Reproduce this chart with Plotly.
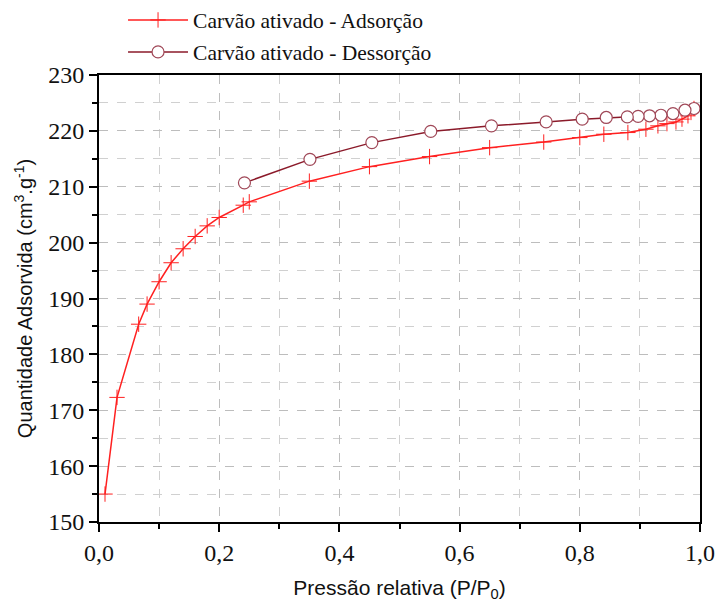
import plotly.graph_objects as go

ads_x = [0.01, 0.03, 0.066, 0.08, 0.10, 0.12, 0.14, 0.16, 0.18, 0.20, 0.24, 0.25,
         0.35, 0.45, 0.55, 0.65, 0.74, 0.80, 0.84, 0.88, 0.91, 0.93, 0.945, 0.96,
         0.97, 0.98, 0.985, 0.99]
ads_y = [155.0, 172.3, 185.4, 189.0, 193.0, 196.4, 198.9, 201.1, 203.0, 204.5, 206.7, 207.3,
         211.0, 213.6, 215.4, 217.0, 218.0, 218.8, 219.4, 219.7, 220.3, 220.9, 221.3, 221.6,
         222.1, 222.7, 223.3, 224.0]

des_x = [0.99, 0.975, 0.955, 0.935, 0.916, 0.897, 0.879, 0.844, 0.804, 0.744, 0.653,
         0.552, 0.454, 0.351, 0.242]
des_y = [224.0, 223.7, 223.1, 222.8, 222.7, 222.6, 222.5, 222.4, 222.1, 221.6, 220.9,
         219.9, 217.9, 214.9, 210.7]

x_ticks = [0.0, 0.2, 0.4, 0.6, 0.8, 1.0]
y_ticks = [150, 160, 170, 180, 190, 200, 210, 220, 230]

SERIF = "Liberation Serif, Times New Roman, Times, serif"
SANS = "Liberation Sans, Arial, Helvetica, sans-serif"

fig = go.Figure()
fig.add_trace(go.Scatter(
    x=ads_x, y=ads_y, mode="lines+markers", name="Carvão ativado - Adsorção",
    legendgroup="a",
    line=dict(color="#ff2020", width=1.5),
    marker=dict(symbol="cross-thin-open", size=11, line=dict(color="#ff3366", width=1)),
))
fig.add_trace(go.Scatter(
    x=des_x, y=des_y, mode="lines+markers", name="Carvão ativado - Dessorção",
    legendgroup="b",
    line=dict(color="#8b1a2a", width=1.5),
    marker=dict(symbol="circle", size=12, color="white", line=dict(color="#a04858", width=1.2)),
))

axis_common = dict(
    showline=True, linecolor="black", linewidth=2, mirror=True,
    ticks="outside", ticklen=8, tickwidth=2, tickcolor="black",
    showgrid=True, gridcolor="#bdbdbd", griddash="dash", gridwidth=1,
    zeroline=False,
    tickfont=dict(family=SERIF, size=24, color="#111"),
)

fig.update_xaxes(
    range=[0, 1.0], tickvals=x_ticks, tickformat=".1f",
    minor=dict(dtick=0.1, ticks="outside", ticklen=5, tickwidth=2, tickcolor="black",
               showgrid=True, gridcolor="#d0d0d0", griddash="dash"),
    title=dict(text="Pressão relativa (P/P<sub>0</sub>)",
               font=dict(family=SANS, size=21, color="#111"), standoff=24),
    **axis_common,
)
fig.update_yaxes(
    range=[150, 230], tickvals=y_ticks,
    minor=dict(dtick=5, ticks="outside", ticklen=5, tickwidth=2, tickcolor="black",
               showgrid=True, gridcolor="#d0d0d0", griddash="dash"),
    title=dict(text="Quantidade Adsorvida (cm<sup>3</sup>.g<sup>-1</sup>)",
               font=dict(family=SANS, size=20, color="#111"), standoff=10),
    **axis_common,
)

fig.update_layout(
    width=720, height=602,
    margin=dict(l=99, r=20, t=75, b=80, autoexpand=False),
    paper_bgcolor="white", plot_bgcolor="white",
    separators=",.",
    showlegend=True,
    legend=dict(x=0.04, y=1.169, xanchor="left", yanchor="top",
                font=dict(family=SERIF, size=21.5, color="#111"),
                bgcolor="rgba(0,0,0,0)", traceorder="grouped", tracegroupgap=1,
                itemwidth=60),
)

fig.write_html("out.html")
